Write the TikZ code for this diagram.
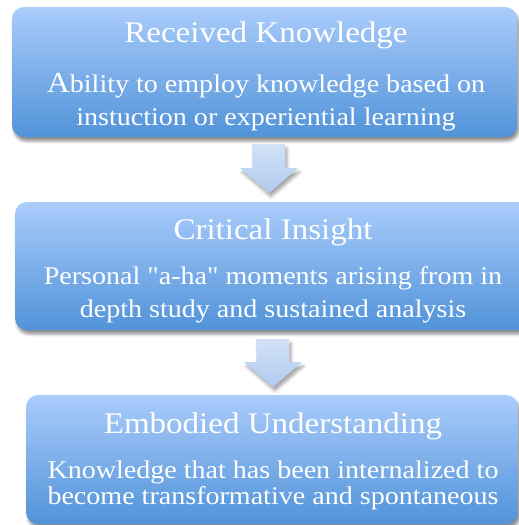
\documentclass[tikz,border=0pt]{standalone}
\usepackage{fontspec}
\setmainfont{Liberation Serif}[FakeStretch=1.10, Ligatures=TeXOff]
\usetikzlibrary{shadows.blur,calc}

\definecolor{boxtop}{HTML}{AACCFB}
\definecolor{boxbot}{HTML}{5193D9}
\definecolor{arrtop}{HTML}{D2E2F8}
\definecolor{arrbot}{HTML}{B0CAEE}

\tikzset{
  stage/.style={rectangle, rounded corners=12pt, inner sep=0pt,
    top color=boxtop, bottom color=boxbot, draw=none,
    blur shadow={shadow xshift=2pt, shadow yshift=-4pt,
      shadow blur radius=3pt, shadow opacity=45}},
  heading/.style={anchor=base, text=white, inner sep=0pt,
    font=\fontsize{30}{34}\selectfont},
  detail/.style={anchor=base, text=white, inner sep=0pt,
    font=\fontsize{25.5}{29}\selectfont},
  flowarrow/.style={top color=arrtop, bottom color=arrbot, draw=none,
    blur shadow={shadow xshift=2pt, shadow yshift=-4pt,
      shadow blur radius=3pt, shadow opacity=35}},
}

% block arrow pointing down: #1 = top middle, #2 = tip
\newcommand{\downblock}[2]{%
  \path[flowarrow] ($(#1)+(-16.5,0)$) -- ($(#1)+(16.5,0)$)
    -- ($(#2)+(16.5,-25)$) -- ($(#2)+(29,-25)$) -- (#2)
    -- ($(#2)+(-29,-25)$) -- ($(#2)+(-16.5,-25)$) -- cycle;}

\begin{document}
\begin{tikzpicture}[x=1pt, y=-1pt]
  \useasboundingbox (0,0) rectangle (519,525);
  \clip (0,0) rectangle (519,525);

  % the three stages
  \node[stage, minimum width=505pt, minimum height=130pt] (s1) at (264.5,72) {};
  \node[stage, minimum width=520pt, minimum height=128pt] (s2) at (275,266) {};
  \node[stage, minimum width=492pt, minimum height=129pt] (s3) at (272,459.5) {};

  % arrows between stages
  \coordinate (a1top) at (268.5,144);
  \coordinate (a1tip) at (269,193);
  \coordinate (a2top) at (272.5,339);
  \coordinate (a2tip) at (273,387);
  \downblock{a1top}{a1tip}
  \downblock{a2top}{a2tip}

  % texts
  \node[heading] (t1) at (266,42) {Received Knowledge};
  \node[detail] (d1a) at (266,92) {{\fontsize{29}{29}\selectfont A}bility to employ knowledge based on};
  \node[detail] (d1b) at (266,125) {instuction or experiential learning};

  \node[heading] (t2) at (273,239) {Critical Insight};
  \node[detail] (d2a) at (273,284) {Personal "a-ha" moments arising from in};
  \node[detail] (d2b) at (273,317) {depth study and sustained analysis};

  \node[heading] (t3) at (273,433) {Embodied Understanding};
  \node[detail] (d3a) at (273,478) {Knowledge that has been internalized to};
  \node[detail] (d3b) at (273,504) {become transformative and spontaneous};
\end{tikzpicture}
\end{document}
